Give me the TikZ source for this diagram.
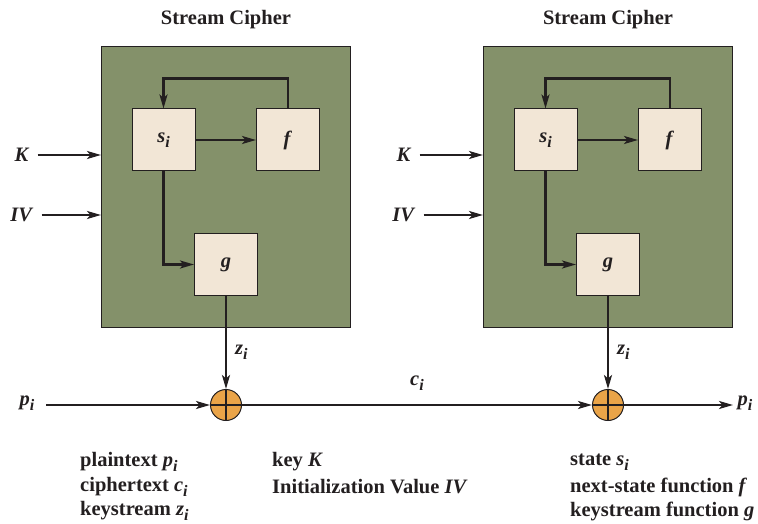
\documentclass[tikz,border=0pt]{standalone}
\usepackage{fontspec}
\setmainfont{Liberation Serif}
\usetikzlibrary{arrows.meta}
\definecolor{olive}{RGB}{132,145,106}
\definecolor{cream}{RGB}{242,230,214}
\definecolor{xorc}{RGB}{234,164,72}
\definecolor{ink}{RGB}{35,31,32}
\newcommand\subi[1]{\textit{#1}\raisebox{-0.55ex}{\fontsize{16}{16}\selectfont\textit{i}}}
\tikzset{
  txt/.style={font=\fontsize{20.5}{25}\selectfont\bfseries, text=ink, inner sep=0pt},
  cipherbox/.style={draw=ink, line width=1pt, fill=olive, minimum width=249pt, minimum height=280pt, inner sep=0pt},
  fbox/.style={draw=ink, line width=1pt, fill=cream, minimum width=63pt, minimum height=62pt, inner sep=0pt, font=\fontsize{20.5}{25}\selectfont\bfseries, text=ink},
  xorn/.style={circle, draw=ink, line width=1pt, fill=xorc, minimum size=31pt, inner sep=0pt},
  conn/.style={draw=ink, line width=2.3pt, -{Stealth[length=14pt,width=8pt,inset=3.5pt]}},
}
\begin{document}
\begin{tikzpicture}[x=1pt,y=-1pt]
\useasboundingbox (0,0) rectangle (758,524);
\foreach \dx/\n in {0/L,382/R}{
  \begin{scope}[xshift=\dx pt]
  \node[txt] (title\n) at (226,20) {Stream Cipher};
  \node[cipherbox] (box\n) at (226,187) {};
  \node[fbox] (s\n) at (163.5,140) {\subi{s}};
  \node[fbox] (f\n) at (288,140) {\textit{f}};
  \node[fbox] (g\n) at (226,264.5) {\textit{g}};
  \node[xorn] (x\n) at (226,405) {};
  \draw[ink, line width=1.2pt] (x\n.north) -- (x\n.south) (x\n.west) -- (x\n.east);
  \draw[conn] (f\n.north) |- (163.5,78.5) -- (s\n.north);
  \draw[conn] (s\n.east) -- (f\n.west);
  \draw[conn] (s\n.south) |- (g\n.west);
  \draw[conn] (g\n.south) -- (x\n.north);
  \node[txt, anchor=west] (z\n) at (235,352) {\subi{z}};
  \end{scope}
}
\node[txt] (KL) at (22,155) {\textit{K}};
\node[txt] (IVL) at (22,215) {\textit{IV}};
\node[txt] (KR) at (404,155) {\textit{K}};
\node[txt] (IVR) at (404,215) {\textit{IV}};
\draw[conn] (KL.east) ++(8pt,0) -- (boxL.west |- KL);
\draw[conn] (IVL.east) ++(8pt,0) -- (boxL.west |- IVL);
\draw[conn] (KR.east) ++(8pt,0) -- (boxR.west |- KR);
\draw[conn] (IVR.east) ++(8pt,0) -- (boxR.west |- IVR);
\node[txt] (pL) at (27,403) {\subi{p}};
\node[txt] (pR) at (745,403) {\subi{p}};
\node[txt] (c) at (417,383) {\subi{c}};
\coordinate (pin) at (46,405);
\draw[conn] (pin) -- (xL.west);
\draw[conn] (xL.east) -- (xR.west);
\draw[conn] (xR.east) -- (733,405);
\node[txt, anchor=west] (lg1) at (80,462) {plaintext \subi{p}};
\node[txt, anchor=west] (lg2) at (80,487) {ciphertext \subi{c}};
\node[txt, anchor=west] (lg3) at (80,511) {keystream \subi{z}};
\node[txt, anchor=west] (lg4) at (272,462) {key \textit{K}};
\node[txt, anchor=west] (lg5) at (272,487) {Initialization Value \textit{IV}};
\node[txt, anchor=west] (lg6) at (570,462) {state \subi{s}};
\node[txt, anchor=west] (lg7) at (570,487) {next-state function \textit{f}};
\node[txt, anchor=west] (lg8) at (570,511) {keystream function \textit{g}};
\end{tikzpicture}
\end{document}
